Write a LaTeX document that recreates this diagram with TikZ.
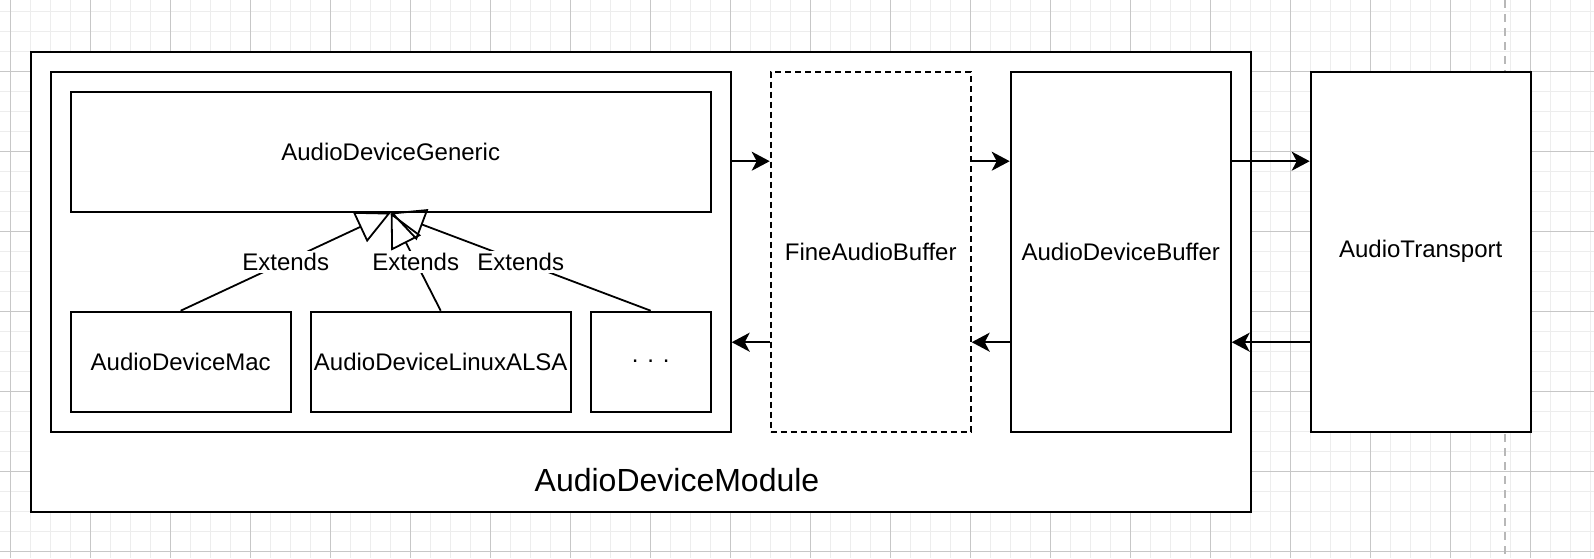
\documentclass[tikz,border=0pt]{standalone}
\usepackage{fontspec}
\setmainfont{Liberation Sans}
\usetikzlibrary{calc}
\usetikzlibrary{arrows.meta}
\tikzset{
    box/.style={draw, line width=1pt, fill=white, rectangle, inner sep=0pt, font=\fontsize{12}{14}\selectfont},
    dashbox/.style={box, dash pattern=on 3pt off 2pt},
    arr/.style={line width=1pt, -{Stealth[length=9pt,width=9.5pt,inset=2.5pt]}},
    ext/.style={line width=0.9pt, -{Triangle[open,length=17pt,width=16.5pt]}},
    lbl/.style={fill=white, inner sep=1pt, font=\fontsize{12}{14}\selectfont},
    gridminor/.style={line width=0.5pt, black!7},
    gridmajor/.style={line width=0.5pt, black!22},
    pagebreak/.style={line width=1pt, black!28, dash pattern=on 4pt off 3pt}
}

\begin{document}
\begin{tikzpicture}[x=0.5pt, y=-0.5pt]
\useasboundingbox (0,0) rectangle (1594,558);
\fill[white] (0,0) rectangle (1594,558);

\foreach \i in {0,...,79} \draw[gridminor] (10.7+20*\i,0) -- (10.7+20*\i,558);
\foreach \j in {0,...,27} \draw[gridminor] (0,11.7+20*\j) -- (1594,11.7+20*\j);
\foreach \i in {0,...,19} \draw[gridmajor] (10.7+80*\i,0) -- (10.7+80*\i,558);
\foreach \j in {1,...,7} \draw[gridmajor] (0,-8.3+80*\j) -- (1594,-8.3+80*\j);

\draw[pagebreak] (1505,0) -- (1505,558);

\node[box, minimum width=610pt, minimum height=230pt] (adm) at (640.7,281.7) {};
\node[font=\fontsize{16}{19}\selectfont] (admlabel) at (677,480) {AudioDeviceModule};

\node[box, minimum width=340pt, minimum height=180pt] (cont) at (390.7,251.7) {};
\node[box, minimum width=320pt, minimum height=60pt] (gen) at (390.7,151.7) {AudioDeviceGeneric};
\node[box, minimum width=110pt, minimum height=50pt] (mac) at (180.7,361.7) {AudioDeviceMac};
\node[box, minimum width=130pt, minimum height=50pt] (alsa) at (440.7,361.7) {AudioDeviceLinuxALSA};
\node[box, minimum width=60pt, minimum height=50pt] (dots) at (650.7,361.7) {. . .};

\node[dashbox, minimum width=100pt, minimum height=180pt] (fine) at (870.7,251.7) {FineAudioBuffer};
\node[box, minimum width=110pt, minimum height=180pt] (adb) at (1120.7,251.7) {AudioDeviceBuffer};
\node[box, minimum width=110pt, minimum height=180pt] (trans) at (1420.7,251.7) {AudioTransport};

\draw[arr] ($(cont.north east)!.25!(cont.south east)$) -- ($(fine.north west)!.25!(fine.south west)$);
\draw[arr] ($(fine.north east)!.25!(fine.south east)$) -- ($(adb.north west)!.25!(adb.south west)$);
\draw[arr] ($(adb.north east)!.25!(adb.south east)$) -- ($(trans.north west)!.25!(trans.south west)$);

\draw[arr] ($(fine.north west)!.75!(fine.south west)$) -- ($(cont.north east)!.75!(cont.south east)$);
\draw[arr] ($(adb.north west)!.75!(adb.south west)$) -- ($(fine.north east)!.75!(fine.south east)$);
\draw[arr] ($(trans.north west)!.75!(trans.south west)$) -- ($(adb.north east)!.75!(adb.south east)$);

\draw[ext] (mac.north) -- node[lbl] (ext1) {Extends} (gen.south);
\draw[ext] (alsa.north) -- node[lbl] (ext2) {Extends} (gen.south);
\draw[ext] (dots.north) -- node[lbl] (ext3) {Extends} (gen.south);
\end{tikzpicture}
\end{document}
